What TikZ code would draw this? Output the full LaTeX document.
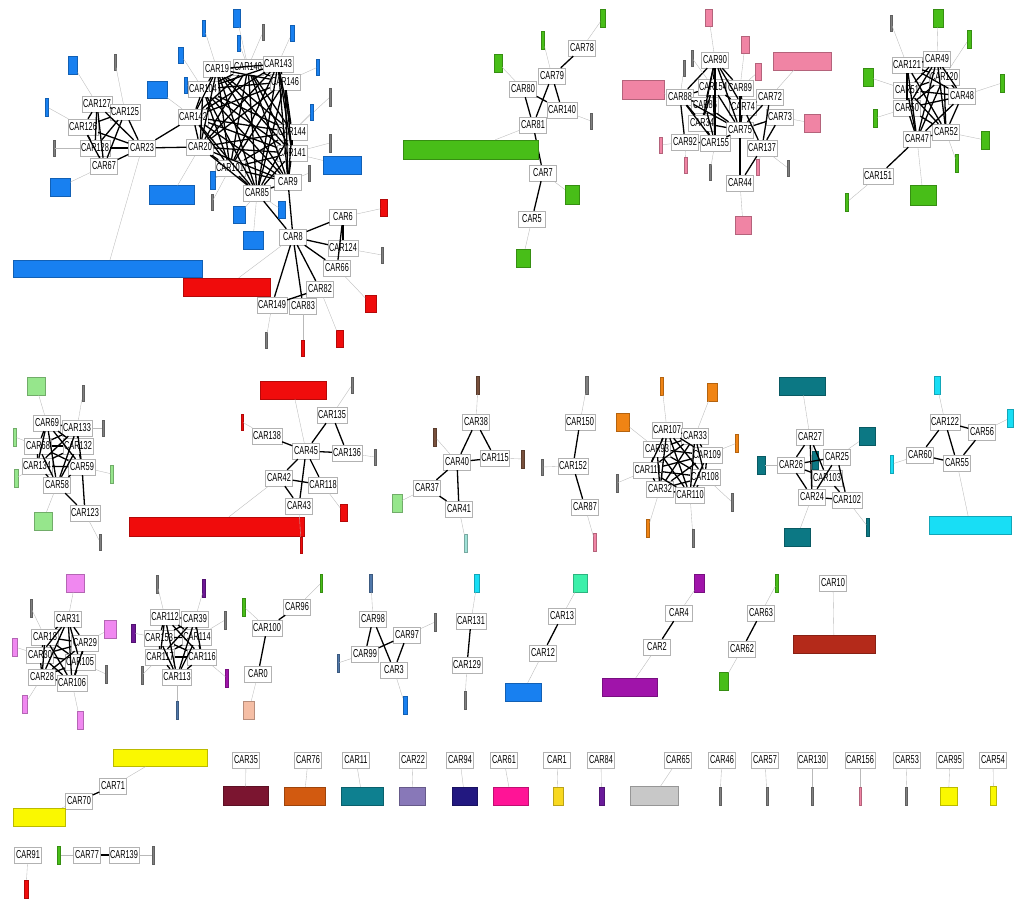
\documentclass[tikz,border=0pt]{standalone}
\usepackage{fontspec}
\setmainfont{Liberation Sans}[FakeStretch=0.64]
\definecolor{cblue}{RGB}{24,128,240}
\definecolor{cred}{RGB}{240,12,12}
\definecolor{cgreen}{RGB}{72,190,24}
\definecolor{cpink}{RGB}{240,132,164}
\definecolor{clight}{RGB}{150,230,140}
\definecolor{cbrown}{RGB}{120,80,60}
\definecolor{corange}{RGB}{240,132,20}
\definecolor{cteal}{RGB}{12,120,132}
\definecolor{ccyan}{RGB}{24,222,245}
\definecolor{cmag}{RGB}{240,136,240}
\definecolor{cpurple}{RGB}{110,24,150}
\definecolor{cpeach}{RGB}{245,190,165}
\definecolor{cmint}{RGB}{60,240,170}
\definecolor{cplum}{RGB}{160,20,170}
\definecolor{cbrick}{RGB}{180,42,26}
\definecolor{cyellow}{RGB}{250,248,0}
\definecolor{cwine}{RGB}{123,21,48}
\definecolor{cochre}{RGB}{210,90,16}
\definecolor{cpetrol}{RGB}{14,128,144}
\definecolor{clav}{RGB}{136,120,184}
\definecolor{cnavy}{RGB}{34,24,128}
\definecolor{chot}{RGB}{255,20,150}
\definecolor{cgold}{RGB}{248,216,32}
\definecolor{cviolet}{RGB}{106,26,154}
\definecolor{csilver}{RGB}{200,200,200}
\definecolor{cpale}{RGB}{160,225,215}
\definecolor{csteel}{RGB}{80,120,170}
\tikzset{
  car/.style={draw=gray!60, fill=white, line width=0.4pt, inner sep=1pt,
    minimum width=27pt, minimum height=16pt, font=\fontsize{11.5}{11.5}\selectfont},
  leaf/.style={draw=#1!75!black, fill=#1, line width=0.3pt, inner sep=0pt},
  link/.style={line width=1.3pt},
  tie/.style={gray!55, line width=0.35pt}
}
\newcommand\clique[1]{\foreach \a [count=\i] in {#1}{\foreach \b [count=\j] in {#1}{%
  \ifnum\i<\j\relax\draw[link] (\a) -- (\b);\fi}}}
\newcommand\leaf[7]{%
  \node[leaf=#7, minimum width=#5pt, minimum height=#6pt] (#1) at (#3,#4) {};
  \draw[tie] (#2) -- (#1);}
\begin{document}
\begin{tikzpicture}[x=1pt,y=-1pt]
\path[use as bounding box, fill=white] (0,0) rectangle (1029,901);
% blue cluster
\node[car] (c127) at (97,104) {CAR127};
\node[car] (c125) at (125,112) {CAR125};
\node[car] (c126) at (83,127) {CAR126};
\node[car] (c128) at (95,148) {CAR128};
\node[car] (c23) at (142,148) {CAR23};
\node[car] (c67) at (104,166) {CAR67};
\node[car] (c19) at (217,69) {CAR19};
\node[car] (c148) at (248,67) {CAR148};
\node[car] (c143) at (278,64) {CAR143};
\node[car] (c146) at (285,82) {CAR146};
\node[car] (c104) at (203,89) {CAR104};
\node[car] (c142) at (193,117) {CAR142};
\node[car] (c20) at (200,147) {CAR20};
\node[car] (c101) at (230,168) {CAR101};
\node[car] (c144) at (292,132) {CAR144};
\node[car] (c141) at (292,153) {CAR141};
\node[car] (c9) at (288,182) {CAR9};
\node[car] (c85) at (257,193) {CAR85};
\node[car] (c8) at (293,237) {CAR8};
\node[car] (c6) at (343,217) {CAR6};
\node[car] (c124) at (343,248) {CAR124};
\node[car] (c66) at (337,268) {CAR66};
\node[car] (c82) at (320,289) {CAR82};
\node[car] (c149) at (272,305) {CAR149};
\node[car] (c83) at (303,306) {CAR83};
\clique{c127,c125,c126,c128,c23,c67}
\clique{c19,c148,c143,c146,c104,c142,c20,c101,c144,c141,c9,c85}
\foreach \u/\v in {c23/c142,c23/c20,c85/c8,c9/c8,c8/c6,c8/c124,c8/c66,c8/c82,
  c8/c83,c8/c149,c6/c66,c6/c124,c149/c82}
  \draw[link] (\u) -- (\v);
\leaf{b1}{c127}{73}{65}{9}{18}{cblue}
\leaf{b2}{c125}{115}{62}{2}{16}{gray}
\leaf{b3}{c126}{47}{107}{3}{18}{cblue}
\leaf{b4}{c128}{54}{148}{2}{16}{gray}
\leaf{b5}{c67}{60}{187}{20}{18}{cblue}
\leaf{b6}{c142}{157}{90}{20}{17}{cblue}
\leaf{b7}{c20}{172}{195}{45}{19}{cblue}
\leaf{b8}{c23}{107.5}{268.5}{189}{17}{cblue}
\leaf{b9}{c19}{204}{28}{3}{16}{cblue}
\leaf{b10}{c148}{237}{18}{7}{18}{cblue}
\leaf{b11}{c104}{181}{55}{5}{16}{cblue}
\leaf{b12}{c104}{186}{85}{3}{16}{cblue}
\leaf{b13}{c148}{239}{43}{3}{16}{cblue}
\leaf{b14}{c148}{263}{32}{2}{16}{gray}
\leaf{b15}{c143}{292}{33}{4}{16}{cblue}
\leaf{b16}{c146}{318}{67}{3}{16}{cblue}
\leaf{b17}{c144}{330}{97}{2}{18}{gray}
\leaf{b18}{c144}{312}{112}{3}{16}{cblue}
\leaf{b19}{c141}{330}{143}{2}{18}{gray}
\leaf{b20}{c141}{342}{165}{38}{18}{cblue}
\leaf{b21}{c9}{309}{173}{2}{16}{gray}
\leaf{b22}{c101}{213}{180}{5}{18}{cblue}
\leaf{b23}{c101}{212}{202}{2}{16}{gray}
\leaf{b24}{c85}{239}{215}{12}{17}{cblue}
\leaf{b25}{c85}{282}{210}{7}{17}{cblue}
\leaf{b26}{c85}{253}{240}{20}{18}{cblue}
\leaf{r1}{c8}{226.5}{287}{87}{18}{cred}
\leaf{r2}{c6}{384}{208}{7}{17}{cred}
\leaf{r3}{c124}{382}{255}{2}{16}{gray}
\leaf{r4}{c66}{371}{304}{11}{17}{cred}
\leaf{r5}{c82}{340}{339}{7}{17}{cred}
\leaf{r6}{c83}{303}{348}{3}{16}{cred}
\leaf{r7}{c149}{266}{340}{2}{16}{gray}
% green cluster
\node[car] (c78) at (582,48) {CAR78};
\node[car] (c79) at (552,76) {CAR79};
\node[car] (c80) at (523,89) {CAR80};
\node[car] (c140) at (562,110) {CAR140};
\node[car] (c81) at (533,125) {CAR81};
\node[car] (c7) at (543,173) {CAR7};
\node[car] (c5) at (532,219) {CAR5};
\foreach \u/\v in {c78/c79,c79/c81,c79/c140,c80/c81,c80/c140,c81/c7,c7/c5}
  \draw[link] (\u) -- (\v);
\leaf{g1}{c78}{603}{18}{5}{18}{cgreen}
\leaf{g2}{c79}{543}{40}{3}{18}{cgreen}
\leaf{g3}{c80}{498}{63}{8}{18}{cgreen}
\leaf{g4}{c140}{591}{121}{2}{16}{gray}
\leaf{g5}{c81}{470.5}{149.5}{135}{19}{cgreen}
\leaf{g6}{c7}{572}{195}{14}{19}{cgreen}
\leaf{g7}{c5}{523}{258}{14}{18}{cgreen}
% pink cluster
\node[car] (c90) at (715,60) {CAR90};
\node[car] (c154) at (713,87) {CAR154};
\node[car] (c89) at (740,88) {CAR89};
\node[car] (c88) at (680,97) {CAR88};
\node[car] (c86) at (705,105) {CAR86};
\node[car] (c74) at (743,107) {CAR74};
\node[car] (c72) at (770,97) {CAR72};
\node[car] (c73) at (780,117) {CAR73};
\node[car] (c34) at (702,123) {CAR34};
\node[car] (c75) at (740,130) {CAR75};
\node[car] (c92) at (685,142) {CAR92};
\node[car] (c155) at (715,143) {CAR155};
\node[car] (c137) at (762,148) {CAR137};
\node[car] (c44) at (740,183) {CAR44};
\clique{c90,c154,c88,c86,c34,c155,c75}
\foreach \u/\v in {c90/c89,c89/c74,c88/c92,c92/c155,c74/c75,c72/c75,c72/c137,
  c73/c75,c73/c137,c74/c137,c72/c74,c137/c44,c75/c44,c89/c75,c154/c74,c90/c74}
  \draw[link] (\u) -- (\v);
\leaf{p1}{c90}{709}{18}{7}{17}{cpink}
\leaf{p2}{c89}{745}{45}{8}{17}{cpink}
\leaf{p3}{c89}{758}{72}{6}{17}{cpink}
\leaf{p4}{c72}{802}{61}{58}{18}{cpink}
\leaf{p5}{c88}{643}{89.5}{42}{19}{cpink}
\leaf{p6}{c88}{684}{68}{2}{16}{gray}
\leaf{p7}{c154}{692}{58}{2}{16}{gray}
\leaf{p8}{c92}{661}{145}{3}{16}{cpink}
\leaf{p9}{c92}{686}{165}{3}{16}{cpink}
\leaf{p10}{c155}{710}{172}{2}{16}{gray}
\leaf{p11}{c137}{758}{167}{3}{16}{cpink}
\leaf{p12}{c137}{788}{168}{2}{16}{gray}
\leaf{p13}{c73}{812}{123}{16}{18}{cpink}
\leaf{p14}{c44}{743}{225}{16}{18}{cpink}
% green cluster, right
\node[car] (c121) at (907,65) {CAR121};
\node[car] (c49) at (937,59) {CAR49};
\node[car] (c120) at (944,77) {CAR120};
\node[car] (c51) at (907,90) {CAR51};
\node[car] (c48) at (962,96) {CAR48};
\node[car] (c50) at (907,108) {CAR50};
\node[car] (c52) at (946,132) {CAR52};
\node[car] (c47) at (917,139) {CAR47};
\node[car] (c151) at (878,176) {CAR151};
\clique{c121,c49,c120,c51,c48,c50,c52,c47}
\draw[link] (c47) -- (c151);
\leaf{e1}{c121}{891}{23}{2}{16}{gray}
\leaf{e2}{c49}{938}{18}{10}{18}{cgreen}
\leaf{e3}{c120}{969}{39}{4}{18}{cgreen}
\leaf{e4}{c51}{868}{77}{10}{18}{cgreen}
\leaf{e5}{c48}{1002}{83}{4}{18}{cgreen}
\leaf{e6}{c50}{875}{118}{4}{18}{cgreen}
\leaf{e7}{c52}{985}{140}{8}{18}{cgreen}
\leaf{e8}{c52}{957}{163}{3}{18}{cgreen}
\leaf{e9}{c47}{923}{195}{26}{20}{cgreen}
\leaf{e10}{c151}{847}{202}{3}{18}{cgreen}
% light green cluster
\node[car] (c69) at (47,423) {CAR69};
\node[car] (c133) at (77,428) {CAR133};
\node[car] (c68) at (38,446) {CAR68};
\node[car] (c132) at (78,446) {CAR132};
\node[car] (c134) at (37,466) {CAR134};
\node[car] (c59) at (82,467) {CAR59};
\node[car] (c58) at (57,485) {CAR58};
\node[car] (c123) at (85,513) {CAR123};
\clique{c69,c133,c68,c132,c134,c59,c58}
\draw[link] (c59) -- (c123);
\draw[link] (c58) -- (c123);
\leaf{h1}{c69}{36}{386}{18}{18}{clight}
\leaf{h2}{c133}{83}{393}{2}{16}{gray}
\leaf{h3}{c133}{103}{428}{2}{16}{gray}
\leaf{h4}{c68}{15}{437}{3}{18}{clight}
\leaf{h5}{c59}{112}{474}{3}{18}{clight}
\leaf{h6}{c134}{16}{478}{4}{18}{clight}
\leaf{h7}{c58}{43}{521}{18}{18}{clight}
\leaf{h8}{c123}{100}{542}{2}{16}{gray}
% red cluster
\node[car] (c135) at (332,415) {CAR135};
\node[car] (c138) at (267,436) {CAR138};
\node[car] (c45) at (306,451) {CAR45};
\node[car] (c136) at (347,453) {CAR136};
\node[car] (c42) at (279,478) {CAR42};
\node[car] (c118) at (323,485) {CAR118};
\node[car] (c43) at (299,506) {CAR43};
\foreach \u/\v in {c135/c45,c135/c136,c138/c45,c45/c136,c45/c42,c45/c118,
  c45/c43,c42/c118,c42/c43}
  \draw[link] (\u) -- (\v);
\leaf{f1}{c45}{293}{390}{66}{18}{cred}
\leaf{f2}{c135}{352}{385}{2}{16}{gray}
\leaf{f3}{c138}{242}{422}{2}{16}{cred}
\leaf{f4}{c136}{375}{457}{2}{16}{gray}
\leaf{f5}{c42}{216.5}{526.5}{175}{19}{cred}
\leaf{f6}{c118}{344}{513}{7}{17}{cred}
\leaf{f7}{c43}{301}{545}{2}{16}{cred}
% brown cluster
\node[car] (c38) at (476,422) {CAR38};
\node[car] (c40) at (457,462) {CAR40};
\node[car] (c115) at (495,458) {CAR115};
\node[car] (c37) at (427,488) {CAR37};
\node[car] (c41) at (459,509) {CAR41};
\foreach \u/\v in {c38/c40,c38/c115,c40/c115,c40/c37,c40/c41,c37/c41}
  \draw[link] (\u) -- (\v);
\leaf{k1}{c38}{478}{385}{3}{18}{cbrown}
\leaf{k2}{c40}{435}{437}{3}{18}{cbrown}
\leaf{k3}{c115}{523}{459}{3}{18}{cbrown}
\leaf{k4}{c37}{397}{503}{10}{18}{clight}
\leaf{k5}{c41}{466}{543}{3}{18}{cpale}
\node[car] (c150) at (580,422) {CAR150};
\node[car] (c152) at (573,466) {CAR152};
\node[car] (c87) at (585,507) {CAR87};
\draw[link] (c150) -- (c152);
\draw[link] (c152) -- (c87);
\leaf{m1}{c150}{587}{385}{3}{18}{gray}
\leaf{m2}{c152}{542}{467}{2}{16}{gray}
\leaf{m3}{c87}{595}{542}{3}{18}{cpink}
% orange cluster
\node[car] (c107) at (667,430) {CAR107};
\node[car] (c33) at (695,436) {CAR33};
\node[car] (c93) at (657,449) {CAR93};
\node[car] (c109) at (707,455) {CAR109};
\node[car] (c111) at (648,470) {CAR111};
\node[car] (c108) at (705,477) {CAR108};
\node[car] (c32) at (660,489) {CAR32};
\node[car] (c110) at (690,495) {CAR110};
\clique{c107,c33,c93,c109,c111,c108,c32,c110}
\leaf{o1}{c93}{623}{422}{13}{18}{corange}
\leaf{o2}{c107}{662}{386}{3}{18}{corange}
\leaf{o3}{c33}{712}{392}{10}{18}{corange}
\leaf{o4}{c109}{737}{443}{3}{18}{corange}
\leaf{o5}{c111}{617}{483}{2}{18}{gray}
\leaf{o6}{c108}{732}{502}{2}{18}{gray}
\leaf{o7}{c32}{648}{528}{3}{18}{corange}
\leaf{o8}{c110}{693}{538}{2}{18}{gray}
% teal cluster
\node[car] (c27) at (810,437) {CAR27};
\node[car] (c26) at (791,465) {CAR26};
\node[car] (c25) at (837,457) {CAR25};
\node[car] (c103) at (827,478) {CAR103};
\node[car] (c24) at (812,497) {CAR24};
\node[car] (c102) at (847,500) {CAR102};
\leaf{t4}{c27}{815}{460}{6}{18}{cteal}
\foreach \u/\v in {c27/c26,c27/c103,c27/c24,c26/c24,c26/c103,c25/c24,
  c25/c102,c24/c102,c103/c102,c26/c25}
  \draw[link] (\u) -- (\v);
\leaf{t1}{c27}{802}{386}{46}{18}{cteal}
\leaf{t2}{c25}{867}{436}{16}{18}{cteal}
\leaf{t3}{c26}{761}{465}{8}{18}{cteal}
\leaf{t5}{c24}{797}{537}{26}{18}{cteal}
\leaf{t6}{c102}{868}{527}{3}{18}{cteal}
% cyan cluster
\node[car] (c122) at (945,422) {CAR122};
\node[car] (c56) at (982,432) {CAR56};
\node[car] (c60) at (920,455) {CAR60};
\node[car] (c55) at (957,463) {CAR55};
\foreach \u/\v in {c122/c56,c122/c60,c122/c55,c60/c55,c56/c55}
  \draw[link] (\u) -- (\v);
\leaf{y1}{c122}{937}{385}{6}{18}{ccyan}
\leaf{y2}{c56}{1010}{418}{6}{18}{ccyan}
\leaf{y3}{c60}{892}{464}{3}{18}{ccyan}
\leaf{y4}{c55}{970}{525}{82}{18}{ccyan}
% magenta cluster
\node[car] (c31) at (68,619) {CAR31};
\node[car] (c18) at (45,637) {CAR18};
\node[car] (c29) at (85,643) {CAR29};
\node[car] (c30) at (40,655) {CAR30};
\node[car] (c105) at (80,662) {CAR105};
\node[car] (c28) at (42,677) {CAR28};
\node[car] (c106) at (72,683) {CAR106};
\clique{c31,c18,c29,c30,c105,c28,c106}
\leaf{n1}{c31}{75}{583}{18}{18}{cmag}
\leaf{n2}{c18}{31}{608}{2}{18}{gray}
\leaf{n3}{c29}{110}{629}{12}{18}{cmag}
\leaf{n4}{c30}{15}{647}{5}{18}{cmag}
\leaf{n5}{c105}{106}{674}{2}{18}{gray}
\leaf{n6}{c28}{25}{704}{5}{18}{cmag}
\leaf{n7}{c106}{80}{720}{6}{18}{cmag}
% purple cluster
\node[car] (c112) at (165,617) {CAR112};
\node[car] (c39) at (195,619) {CAR39};
\node[car] (c153) at (159,638) {CAR153};
\node[car] (c114) at (197,637) {CAR114};
\node[car] (c117) at (160,657) {CAR117};
\node[car] (c116) at (202,657) {CAR116};
\node[car] (c113) at (177,677) {CAR113};
\clique{c112,c39,c153,c114,c117,c116,c113}
\leaf{q1}{c112}{157}{584}{2}{18}{gray}
\leaf{q2}{c39}{204}{588}{3}{18}{cpurple}
\leaf{q3}{c153}{133}{633}{4}{18}{cpurple}
\leaf{q4}{c114}{225}{620}{2}{18}{gray}
\leaf{q5}{c117}{142}{675}{2}{18}{gray}
\leaf{q6}{c116}{227}{678}{3}{18}{cplum}
\leaf{q7}{c113}{177}{710}{2}{18}{csteel}
% small groups
\node[car] (c96) at (297,607) {CAR96};
\node[car] (c100) at (267,628) {CAR100};
\node[car] (c0) at (258,674) {CAR0};
\draw[link] (c96) -- (c100);
\draw[link] (c100) -- (c0);
\leaf{s1}{c96}{321}{583}{2}{18}{cgreen}
\leaf{s2}{c100}{244}{607}{3}{18}{cgreen}
\leaf{s3}{c0}{249}{710}{11}{18}{cpeach}
\node[car] (c98) at (373,619) {CAR98};
\node[car] (c97) at (407,635) {CAR97};
\node[car] (c99) at (365,654) {CAR99};
\node[car] (c3) at (394,670) {CAR3};
\foreach \u/\v in {c98/c99,c98/c3,c97/c99,c97/c3}
  \draw[link] (\u) -- (\v);
\leaf{u1}{c98}{371}{583}{3}{18}{csteel}
\leaf{u2}{c97}{435}{622}{2}{18}{gray}
\leaf{u3}{c99}{338}{663}{2}{18}{csteel}
\leaf{u4}{c3}{405}{705}{4}{18}{cblue}
\node[car] (c131) at (471,621) {CAR131};
\node[car] (c129) at (467,665) {CAR129};
\draw[link] (c131) -- (c129);
\leaf{v1}{c131}{477}{583}{5}{18}{ccyan}
\leaf{v2}{c129}{465}{700}{2}{18}{gray}
\node[car] (c13) at (562,616) {CAR13};
\node[car] (c12) at (543,653) {CAR12};
\draw[link] (c13) -- (c12);
\leaf{w1}{c13}{580}{583}{14}{18}{cmint}
\leaf{w2}{c12}{523}{692}{36}{18}{cblue}
\node[car] (c4) at (679,613) {CAR4};
\node[car] (c2) at (657,647) {CAR2};
\draw[link] (c4) -- (c2);
\leaf{x1}{c4}{699.5}{583}{10}{18}{cplum}
\leaf{x2}{c2}{629.5}{687}{55}{18}{cplum}
\node[car] (c63) at (761,613) {CAR63};
\node[car] (c62) at (742,649) {CAR62};
\draw[link] (c63) -- (c62);
\leaf{z1}{c63}{777}{583}{3}{18}{cgreen}
\leaf{z2}{c62}{724}{681}{9}{18}{cgreen}
\node[car] (c10) at (833,583) {CAR10};
\leaf{a1}{c10}{834}{644}{82}{18}{cbrick}
% bottom rows
\node[car] (c71) at (113,786) {CAR71};
\node[car] (c70) at (79,801) {CAR70};
\draw[link] (c70) -- (c71);
\leaf{yl1}{c71}{160}{758}{94}{17}{cyellow}
\leaf{yl2}{c70}{39}{817}{52}{18}{cyellow}
\foreach \n/\x/\lx/\w/\h/\col in {35/246/245.5/45/19/cwine,76/308/304.5/41/18/cochre,
  11/356/362/42/18/cpetrol,22/413/412/26/18/clav,94/460/464.5/25/18/cnavy,
  61/504/510.5/35/18/chot,1/557/558/10/18/cgold,84/601/601.5/5/18/cviolet,
  65/678/654/48/19/csilver,46/722/720/2/18/gray,57/765/767/2/18/gray,
  130/812/812/2/18/gray,156/860/860/2/18/cpink,53/907/906/2/18/gray,
  95/950/948.5/17/18/cyellow,54/993/993.5/6/19/cyellow}{
  \node[car] (c\n) at (\x,760) {CAR\n};
  \leaf{s\n}{c\n}{\lx}{796}{\w}{\h}{\col}
}
\node[car] (c91) at (28,855) {CAR91};
\leaf{d1}{c91}{26}{889}{4}{18}{cred}
\node[car] (c77) at (87,855) {CAR77};
\node[car] (c139) at (124,855) {CAR139};
\draw[link] (c77) -- (c139);
\leaf{d2}{c77}{59}{855}{3}{18}{cgreen}
\leaf{d3}{c139}{153}{855}{2}{18}{gray}
\end{tikzpicture}
\end{document}
